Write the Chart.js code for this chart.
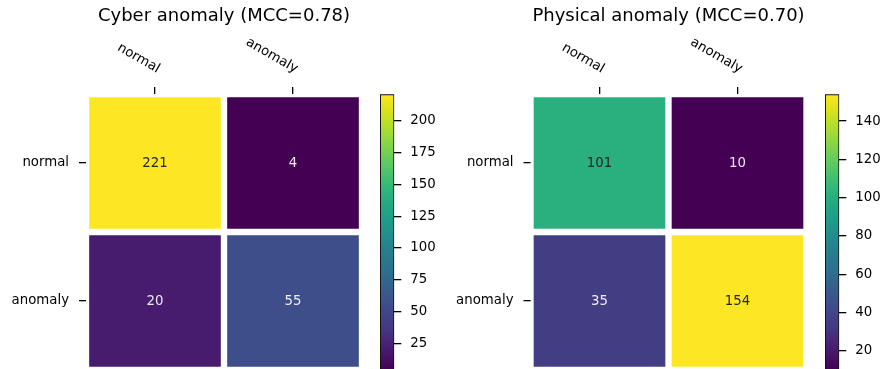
<!DOCTYPE html>
<html>
<head>
<meta charset="utf-8">
<script src="https://cdn.jsdelivr.net/npm/chart.js@4.4.1/dist/chart.umd.min.js"></script>
<style>
  body { margin: 0; background: #fff; overflow: hidden; width: 880px; height: 369px; }
  canvas { position: absolute; top: 0; }
</style>
</head>
<body>
<canvas id="cyberMap" width="370" height="370" style="left:0"></canvas>
<canvas id="cyberBar" width="70" height="372" style="left:370px"></canvas>
<canvas id="physicalMap" width="376" height="370" style="left:440px"></canvas>
<canvas id="physicalBar" width="64" height="372" style="left:816px"></canvas>
<script>
// class names (rows = true, columns = predicted)
const classLabels = ['normal', 'anomaly'];

// cyber anomaly confusion matrix
const cyberTitle = 'Cyber anomaly (MCC=0.78)';
const cyberNormalRow = [221, 4];
const cyberAnomalyRow = [20, 55];
const cyberBarTicks = [25, 50, 75, 100, 125, 150, 175, 200];

// physical anomaly confusion matrix
const physicalTitle = 'Physical anomaly (MCC=0.70)';
const physicalNormalRow = [101, 10];
const physicalAnomalyRow = [35, 154];
const physicalBarTicks = [20, 40, 60, 80, 100, 120, 140];

Chart.defaults.font.family = '"DejaVu Sans", sans-serif';
Chart.defaults.color = '#000';
Chart.defaults.animation = false;

// viridis colormap, sampled every 0.05
const viridisStops = [
    [68, 1, 84], [71, 19, 101], [72, 36, 117], [69, 55, 129], [65, 68, 135],
    [59, 82, 139], [53, 95, 141], [46, 110, 142], [42, 120, 142], [37, 131, 142],
    [33, 145, 140], [31, 158, 137], [34, 168, 132], [47, 180, 124], [68, 191, 112],
    [94, 201, 98], [122, 209, 81], [155, 217, 60], [189, 223, 38], [223, 227, 24],
    [253, 231, 37]
];

function viridis(t) {
    t = Math.min(1, Math.max(0, t));
    const pos = t * (viridisStops.length - 1);
    const i = Math.min(Math.floor(pos), viridisStops.length - 2);
    const f = pos - i;
    const a = viridisStops[i], b = viridisStops[i + 1];
    const c = a.map((v, k) => Math.round(v + (b[k] - v) * f));
    return `rgb(${c[0]},${c[1]},${c[2]})`;
}

// dark text above the middle of the range, light text below it
function textColorFor(t) {
    return t > 0.5 ? '#262626' : 'rgba(255,255,255,0.9)';
}

// writes the counts in the cells and the rotated column labels
const cellText = {
    id: 'cellText',
    afterDatasetsDraw(chart) {
        const ctx = chart.ctx;
        ctx.save();
        ctx.font = '13.3px "DejaVu Sans"';
        ctx.textAlign = 'center';
        ctx.textBaseline = 'middle';
        chart.data.datasets.forEach((ds, r) => {
            chart.getDatasetMeta(r).data.forEach((bar, c) => {
                const p = bar.getCenterPoint();
                ctx.fillStyle = textColorFor(ds.norm[c]);
                ctx.fillText(String(ds.counts[c]), p.x, p.y + 0.5);
            });
        });
        ctx.restore();
    },
    afterDraw(chart) {
        const xs = chart.scales.x;
        const ctx = chart.ctx;
        ctx.save();
        ctx.font = '13.3px "DejaVu Sans"';
        ctx.fillStyle = '#000';
        ctx.textAlign = 'right';
        ctx.textBaseline = 'alphabetic';
        xs.ticks.forEach((t, i) => {
            ctx.save();
            ctx.translate(xs.getPixelForTick(i) + 2, xs.bottom - 21);
            ctx.rotate(Math.PI / 6);
            ctx.fillText(xs.getLabelForValue(t.value), 0, 0);
            ctx.restore();
        });
        ctx.restore();
    }
};

function makeHeatmap(id, title, rows, axisWidth, padRight) {
    const all = rows.flat();
    const vmin = Math.min(...all);
    const vmax = Math.max(...all);

    const datasets = rows.map((row, r) => ({
        label: classLabels[r],
        data: row.map(() => [r - 0.5, r + 0.5]),
        counts: row,
        norm: row.map(v => (v - vmin) / (vmax - vmin)),
        backgroundColor: row.map(v => viridis((v - vmin) / (vmax - vmin))),
        borderColor: '#ffffff',
        borderWidth: 3.5,
        borderSkipped: false,
        grouped: false,
        barPercentage: 1,
        categoryPercentage: 1
    }));

    return new Chart(document.getElementById(id), {
        type: 'bar',
        data: { labels: classLabels, datasets: datasets },
        plugins: [cellText],
        options: {
            responsive: false,
            layout: { padding: { right: padRight } },
            plugins: {
                legend: { display: false },
                tooltip: { enabled: false },
                title: {
                    display: true,
                    text: title,
                    fullSize: false,
                    color: '#000',
                    font: { size: 18, weight: 'normal' },
                    padding: { top: 6, bottom: 0 }
                }
            },
            scales: {
                x: {
                    position: 'top',
                    ticks: { display: false },
                    grid: { offset: false, drawOnChartArea: false, tickLength: 7, color: '#000', lineWidth: 1.3 },
                    border: { display: false },
                    afterFit: s => { s.height = 66.4; }
                },
                y: {
                    min: -0.5,
                    max: 1.5,
                    reverse: true,
                    afterBuildTicks: s => { s.ticks = classLabels.map((_, i) => ({ value: i })); },
                    ticks: {
                        callback: v => classLabels[v],
                        padding: 10,
                        color: '#000',
                        font: { size: 13.3 }
                    },
                    grid: { drawOnChartArea: false, tickLength: 7, color: '#000', lineWidth: 1.3 },
                    border: { display: false },
                    afterFit: s => { s.width = axisWidth; s.paddingTop = 0; s.paddingBottom = 0; }
                }
            }
        }
    });
}

function makeColorbar(id, rows, ticks, padLeft, axisWidth) {
    const all = rows.flat();
    const vmin = Math.min(...all);
    const vmax = Math.max(...all);

    return new Chart(document.getElementById(id), {
        type: 'bar',
        data: {
            labels: [''],
            datasets: [{
                data: [[vmin, vmax]],
                backgroundColor: c => {
                    const area = c.chart.chartArea;
                    if (!area) return '#440154';
                    const g = c.chart.ctx.createLinearGradient(0, area.bottom, 0, area.top);
                    const n = viridisStops.length - 1;
                    viridisStops.forEach((s, i) => g.addColorStop(i / n, viridis(i / n)));
                    return g;
                },
                borderColor: '#111',
                borderWidth: 1.3,
                borderSkipped: false,
                barPercentage: 1,
                categoryPercentage: 1
            }]
        },
        options: {
            responsive: false,
            layout: { padding: { left: padLeft, top: 94.3, bottom: 2 } },
            plugins: { legend: { display: false }, tooltip: { enabled: false } },
            scales: {
                x: { display: false },
                y: {
                    position: 'right',
                    min: vmin,
                    max: vmax,
                    afterBuildTicks: s => { s.ticks = ticks.map(v => ({ value: v })); },
                    ticks: { padding: 9, color: '#000', font: { size: 13.3 } },
                    grid: { drawOnChartArea: false, tickLength: 7, color: '#000', lineWidth: 1.3 },
                    border: { display: false },
                    afterFit: s => { s.width = axisWidth; s.paddingTop = 0; s.paddingBottom = 0; }
                }
            }
        }
    });
}

const cyberRows = [cyberNormalRow, cyberAnomalyRow];
const physicalRows = [physicalNormalRow, physicalAnomalyRow];

makeHeatmap('cyberMap', cyberTitle, cyberRows, 86, 8);
makeColorbar('cyberBar', cyberRows, cyberBarTicks, 10, 45.7);
makeHeatmap('physicalMap', physicalTitle, physicalRows, 90.5, 9.5);
makeColorbar('physicalBar', physicalRows, physicalBarTicks, 9, 40.7);
</script>
</body>
</html>
